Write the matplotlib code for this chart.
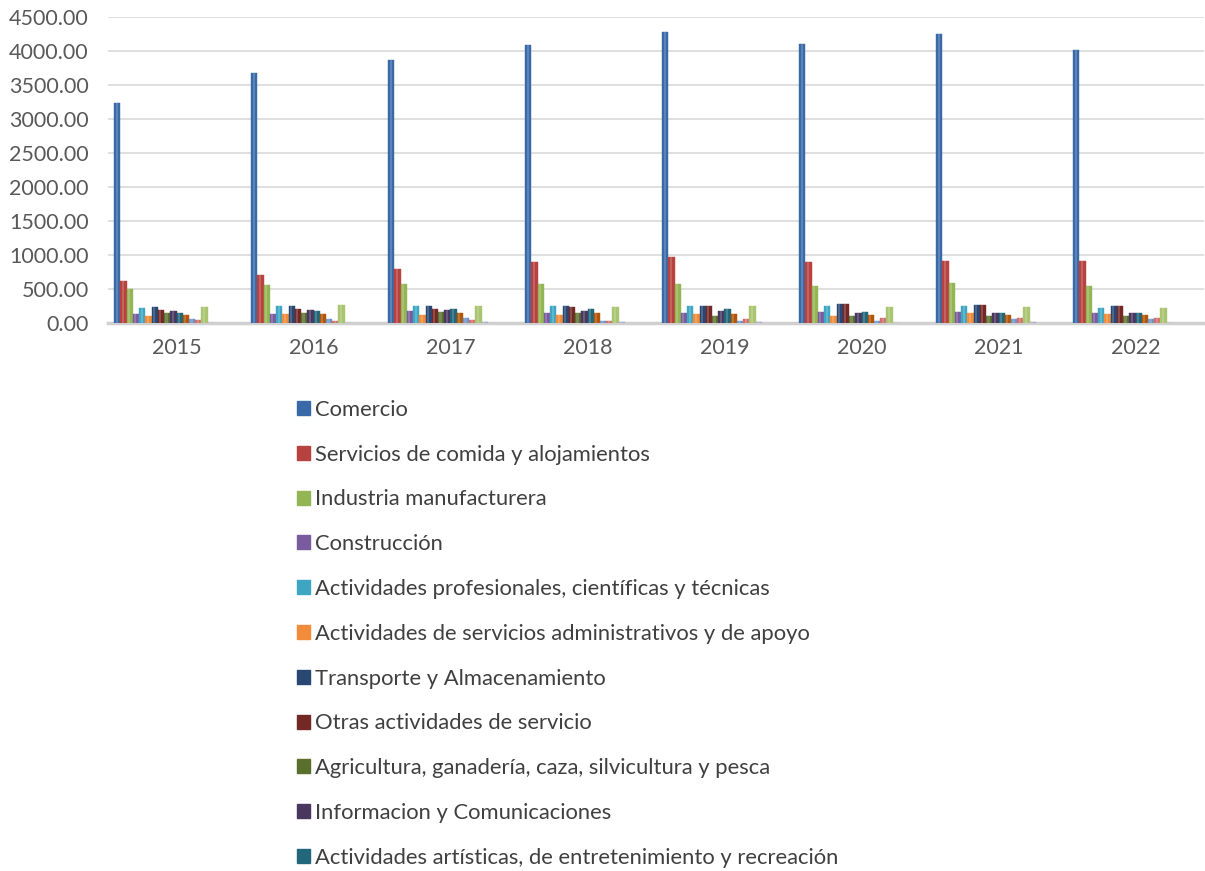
import matplotlib
matplotlib.use("Agg")
import matplotlib.pyplot as plt
from matplotlib.patches import Patch
import numpy as np

plt.rcParams['font.family'] = ['Lato', 'DejaVu Sans']

years = ['2015', '2016', '2017', '2018', '2019', '2020', '2021', '2022']

sectores = [
    'Comercio',
    'Servicios de comida y alojamientos',
    'Industria manufacturera',
    'Construcción',
    'Actividades profesionales, científicas y técnicas',
    'Actividades de servicios administrativos y de apoyo',
    'Transporte y Almacenamiento',
    'Otras actividades de servicio',
    'Agricultura, ganadería, caza, silvicultura y pesca',
    'Informacion y Comunicaciones',
    'Actividades artísticas, de entretenimiento y recreación',
    'Enseñanza',
    'Actividades inmobiliarias',
    'Actividades financieras y de seguros',
    'Salud humana y asistencia social',
    'Suministro de agua',
]

# values per sector, one per year (2015..2022)
comercio       = [3235, 3676, 3867, 4088, 4279, 4100, 4250, 4015]
comida_aloj    = [618, 706, 794, 897, 970, 900, 910, 910]
manufactura    = [500, 559, 574, 574, 574, 544, 588, 544]
construccion   = [132, 132, 172, 147, 147, 162, 162, 147]
profesionales  = [216, 250, 250, 250, 250, 250, 250, 221]
administrativo = [103, 132, 118, 113, 132, 103, 147, 132]
transporte     = [235, 250, 250, 250, 250, 279, 265, 250]
otras_serv     = [186, 201, 201, 235, 250, 279, 265, 250]
agricultura    = [147, 147, 157, 147, 103, 103, 103, 103]
informacion    = [172, 186, 186, 172, 172, 147, 147, 147]
artisticas     = [152, 172, 206, 206, 206, 162, 147, 147]
ensenanza      = [118, 132, 147, 147, 132, 118, 113, 118]
inmobiliarias  = [54, 54, 69, 28, 30, 25, 59, 59]
financieras    = [40, 35, 44, 30, 59, 69, 69, 74]
salud          = [235, 265, 250, 235, 250, 235, 235, 221]
agua           = [6, 6, 8, 10, 10, 6, 8, 6]

series = [comercio, comida_aloj, manufactura, construccion, profesionales,
          administrativo, transporte, otras_serv, agricultura, informacion,
          artisticas, ensenanza, inmobiliarias, financieras, salud, agua]

colors = ['#3A69A8', '#B8423F', '#93B553', '#7A5C9E', '#3EA6C2', '#F28C3A',
          '#284873', '#742826', '#5A6F2C', '#493760', '#22667A', '#B35506',
          '#6A93C8', '#D0706E', '#A9C571', '#B3A6CC']

n_slots = 22      # bar slots per category (incl. gap)
n_legend = 11     # the legend in the original is cut after 11 entries

fig = plt.figure(figsize=(12.05, 8.71), dpi=100)
ax = fig.add_axes([108 / 1205, 1 - 323 / 871, 1096 / 1205, 306 / 871])

x = np.arange(len(years))
w = 1.0 / n_slots
for i, vals in enumerate(series):
    pos = x - 0.5 + (1 + i + 0.5) * w
    ax.bar(pos, vals, width=w, color=colors[i], edgecolor=colors[i],
           linewidth=0.3, zorder=3)
    # light highlight stripe to mimic the 3D shading
    ax.bar(pos - w * 0.1, vals, width=w * 0.35, color='white', alpha=0.18,
           linewidth=0, zorder=4)

ax.set_xlim(-0.5, len(years) - 0.5)
ax.set_ylim(0, 4500)
ax.set_yticks(np.arange(0, 4501, 500))
ax.set_yticklabels([f'{v:.2f}' for v in np.arange(0, 4501, 500)])
ax.set_xticks(x)
ax.set_xticklabels(years)
ax.tick_params(axis='both', length=0, labelsize=15.5, colors='#595959')
ax.tick_params(axis='y', pad=14)
ax.tick_params(axis='x', pad=11)
ax.grid(axis='y', color='#D9D9D9', linewidth=1.2, zorder=0)
for s in ['top', 'right', 'left']:
    ax.spines[s].set_visible(False)
ax.spines['bottom'].set_color('#D0D0D0')
ax.spines['bottom'].set_linewidth(2.5)

handles = [Patch(facecolor=colors[i], edgecolor=colors[i]) for i in range(n_legend)]
fig.legend(handles, sectores[:n_legend], loc='upper left',
           bbox_to_anchor=(288 / 1205, 1 - 391 / 871), frameon=False,
           fontsize=15.8, labelcolor='#404040', handlelength=0.6,
           handleheight=0.6, handletextpad=0.25, labelspacing=1.13,
           borderaxespad=0)

fig.savefig('out.png', dpi=100, facecolor='white')
